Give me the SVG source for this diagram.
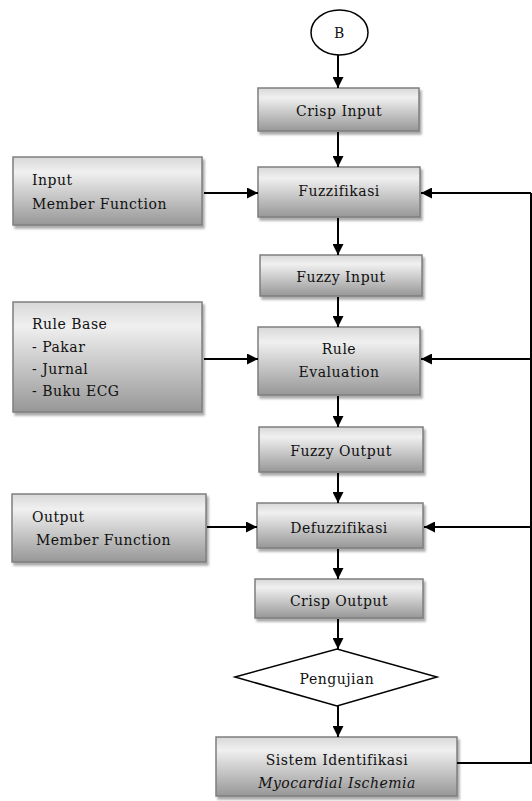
<svg xmlns="http://www.w3.org/2000/svg" width="532" height="801" viewBox="0 0 532 801">
<defs>
<linearGradient id="g" x1="0" y1="0" x2="0" y2="1">
<stop offset="0" stop-color="#d8d8d8"/>
<stop offset="0.22" stop-color="#f0f0f0"/>
<stop offset="1" stop-color="#979797"/>
</linearGradient>
<filter id="sh" x="-10%" y="-10%" width="130%" height="140%">
<feDropShadow dx="2" dy="3" stdDeviation="1.2" flood-color="#666" flood-opacity="0.55"/>
</filter>
<marker id="ah" viewBox="0 0 10 10" refX="10" refY="5" markerWidth="5.5" markerHeight="5.5" orient="auto" markerUnits="strokeWidth">
<path d="M0,0 L10,5 L0,10 z" fill="#000"/>
</marker>
</defs>
<style>
.box{fill:url(#g);stroke:#7f7f7f;stroke-width:1.5;filter:url(#sh)}
text{font-family:'DejaVu Serif',serif;font-size:14px;letter-spacing:0.5px;fill:#111}
.c{text-anchor:middle}
.ln{stroke:#000;stroke-width:2;fill:none}
.ar{stroke:#000;stroke-width:2;fill:none;marker-end:url(#ah)}
</style>
<rect width="532" height="801" fill="#fff"/>

<g id="start">
<ellipse cx="339.5" cy="32.5" rx="28.5" ry="22.5" fill="#fff" stroke="#000" stroke-width="1.5"/>
<text class="c" x="339.5" y="38">B</text>
</g>

<g id="crisp-input">
<rect class="box" x="258" y="88" width="161" height="43"/>
<text class="c" x="339" y="116">Crisp Input</text>
</g>

<g id="fuzzifikasi">
<rect class="box" x="258" y="167" width="162" height="50"/>
<text class="c" x="339" y="196">Fuzzifikasi</text>
</g>

<g id="input-mf">
<rect class="box" x="13" y="157" width="189" height="68"/>
<text x="32" y="185">Input</text>
<text x="32" y="209">Member Function</text>
</g>

<g id="fuzzy-input">
<rect class="box" x="260" y="255" width="162" height="41"/>
<text class="c" x="341" y="282">Fuzzy Input</text>
</g>

<g id="rule-evaluation">
<rect class="box" x="258" y="327" width="162" height="68"/>
<text class="c" x="339" y="354">Rule</text>
<text class="c" x="339" y="377">Evaluation</text>
</g>

<g id="rule-base">
<rect class="box" x="13" y="302" width="189" height="110"/>
<text x="32" y="329">Rule Base</text>
<text x="32" y="352">- Pakar</text>
<text x="32" y="374">- Jurnal</text>
<text x="32" y="396">- Buku ECG</text>
</g>

<g id="fuzzy-output">
<rect class="box" x="259" y="427" width="164" height="45"/>
<text class="c" x="341" y="456">Fuzzy Output</text>
</g>

<g id="defuzzifikasi">
<rect class="box" x="257" y="503" width="166" height="45"/>
<text class="c" x="339" y="533">Defuzzifikasi</text>
</g>

<g id="output-mf">
<rect class="box" x="12" y="494" width="194" height="68"/>
<text x="32" y="522">Output</text>
<text x="36" y="545">Member Function</text>
</g>

<g id="crisp-output">
<rect class="box" x="255" y="579" width="168" height="39"/>
<text class="c" x="339" y="606">Crisp Output</text>
</g>

<g id="pengujian">
<polygon points="235,677 337,649 437,677 337,706" fill="#fff" stroke="#000" stroke-width="1.5"/>
<text class="c" x="337" y="684">Pengujian</text>
</g>

<g id="sistem">
<rect class="box" x="216" y="737" width="241" height="59"/>
<text class="c" x="337" y="765">Sistem Identifikasi</text>
<text class="c" x="337" y="788" font-style="italic">Myocardial Ischemia</text>
</g>

<g id="connectors">
<line class="ar" x1="338" y1="55" x2="338" y2="88"/>
<line class="ar" x1="338" y1="132" x2="338" y2="167"/>
<line class="ar" x1="338" y1="218" x2="338" y2="255"/>
<line class="ar" x1="338" y1="297" x2="338" y2="327"/>
<line class="ar" x1="338" y1="396" x2="338" y2="427"/>
<line class="ar" x1="338" y1="473" x2="338" y2="503"/>
<line class="ar" x1="338" y1="549" x2="338" y2="579"/>
<line class="ar" x1="338" y1="619" x2="338" y2="649"/>
<line class="ar" x1="338" y1="706" x2="338" y2="737"/>
<line class="ar" x1="204" y1="193" x2="258" y2="193"/>
<line class="ar" x1="204" y1="359" x2="258" y2="359"/>
<line class="ar" x1="207" y1="527" x2="257" y2="527"/>
<polyline class="ln" points="457,763 531,763 531,193"/>
<line class="ar" x1="531" y1="193" x2="421" y2="193"/>
<line class="ar" x1="531" y1="359" x2="421" y2="359"/>
<line class="ar" x1="531" y1="527" x2="424" y2="527"/>
</g>
</svg>
